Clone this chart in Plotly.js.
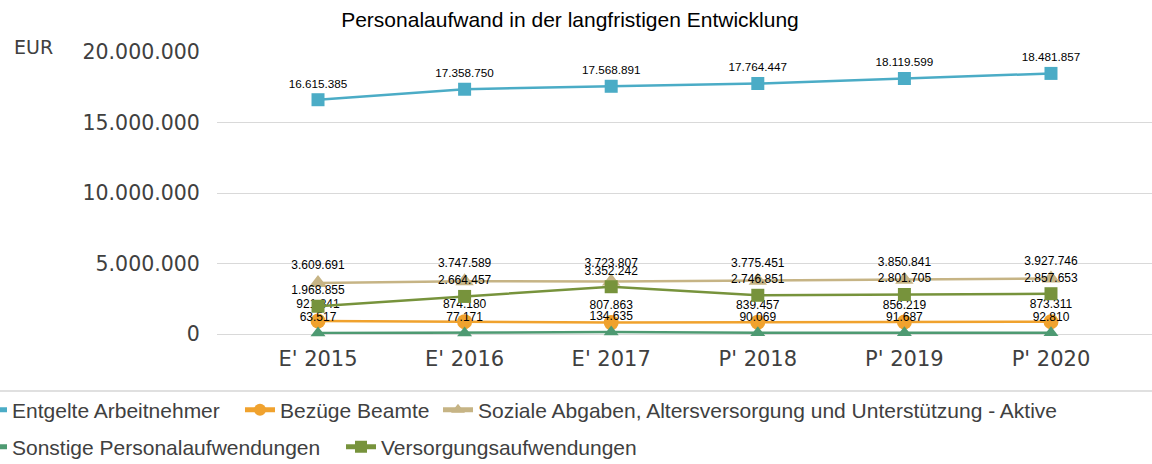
<!DOCTYPE html>
<html>
<head>
<meta charset="utf-8">
<script src="https://cdn.plot.ly/plotly-3.0.1.min.js"></script>
<style>html,body{margin:0;padding:0;background:#fff;}#chart{width:1152px;height:464px;}</style>
</head>
<body>
<div id="chart"></div>
<script>
const categories = ["E' 2015", "E' 2016", "E' 2017", "P' 2018", "P' 2019", "P' 2020"];
const entgelte = [16615385, 17358750, 17568891, 17764447, 18119599, 18481857];
const bezuege = [921841, 874180, 807863, 839457, 856219, 873311];
const soziale = [3609691, 3747589, 3723807, 3775451, 3850841, 3927746];
const sonstige = [63517, 77171, 134635, 90069, 91687, 92810];
const versorgung = [1968855, 2664457, 3352242, 2746851, 2801705, 2857653];
const seriesNames = ["Entgelte Arbeitnehmer", "Bezüge Beamte", "Soziale Abgaben, Altersversorgung und Unterstützung - Aktive", "Sonstige Personalaufwendungen", "Versorgungsaufwendungen"];
const yTickVals = [0, 5000000, 10000000, 15000000, 20000000];
const yTickText = ['0', '5.000.000', '10.000.000', '15.000.000', '20.000.000'];

function fmt(v){ return String(v).replace(/\B(?=(\d{3})+(?!\d))/g, "."); }

const xIdx = categories.map((c,i)=>i);

function trace(name, y, color, symbol, size, legendId, labelFont){
  return {
    x: xIdx, y: y, name: name, type: 'scatter', mode: 'lines+markers+text',
    legend: legendId,
    line: {color: color, width: 2.5},
    marker: {color: color, symbol: symbol, size: size},
    text: y.map(fmt), textposition: 'top center',
    textfont: labelFont || {family: 'Liberation Sans, Arial, sans-serif', size: 12, color: '#000'},
    cliponaxis: false, hoverinfo: 'skip'
  };
}

const data = [
  trace(seriesNames[0], entgelte, '#4bacc6', 'square', 13, 'legend', {family: 'Liberation Sans, Arial, sans-serif', size: 11.7, color: '#000'}),
  trace(seriesNames[1], bezuege, '#f0a22e', 'circle', 15, 'legend2'),
  trace(seriesNames[2], soziale, '#c6b485', 'triangle-up', 16, 'legend3'),
  trace(seriesNames[3], sonstige, '#4e9a72', 'triangle-up', 13, 'legend4'),
  trace(seriesNames[4], versorgung, '#77933c', 'square', 13, 'legend5')
];

const L = 217, R = 0, T = 52, B = 130;
const W = 1152 - L - R, H = 464 - T - B;
const legendFont = {family: 'Liberation Sans, Arial, sans-serif', size: 21, color: '#404040'};
function leg(textX, rowY){
  return {orientation: 'h', x: (textX - 40 - L) / W, xanchor: 'left', y: (334 - rowY) / H, yanchor: 'middle',
    font: legendFont, bgcolor: 'rgba(0,0,0,0)', itemsizing: 'constant'};
}

const layout = {
  width: 1152, height: 464,
  margin: {l: L, r: R, t: T, b: B, pad: 0, autoexpand: false},
  paper_bgcolor: '#fff', plot_bgcolor: '#fff',
  showlegend: true,
  title: {text: 'Personalaufwand in der langfristigen Entwicklung', x: 570 / 1152, xref: 'container', y: 1 - 20 / 464, yref: 'container', xanchor: 'center', yanchor: 'middle',
    font: {family: 'Liberation Sans, Arial, sans-serif', size: 21, color: '#000'}},
  xaxis: {
    range: [-0.689, 5.689], tickmode: 'array', tickvals: xIdx, ticktext: categories,
    showgrid: false, zeroline: false, showline: false,
    ticks: 'outside', ticklen: 6, tickcolor: 'rgba(0,0,0,0)',
    tickfont: {family: 'DejaVu Sans, Verdana, sans-serif', size: 21, color: '#404040'}
  },
  yaxis: {
    range: [0, 20000000], tickmode: 'array', tickvals: yTickVals, ticktext: yTickText,
    showgrid: true, gridcolor: '#d9d9d9', gridwidth: 1, zeroline: true, zerolinecolor: '#d9d9d9', zerolinewidth: 1,
    showline: false, ticks: 'outside', ticklen: 12, tickcolor: 'rgba(0,0,0,0)',
    tickfont: {family: 'DejaVu Sans, Verdana, sans-serif', size: 20.5, color: '#404040'}
  },
  legend: leg(12, 410),
  legend2: leg(280, 410),
  legend3: leg(478, 410),
  legend4: leg(12, 447),
  legend5: leg(381, 447),
  annotations: [{
    text: 'EUR', xref: 'paper', yref: 'paper', x: (12 - L) / W, y: (334 - 47) / H, xanchor: 'left', yanchor: 'middle', showarrow: false,
    font: {family: 'DejaVu Sans, Verdana, sans-serif', size: 19, color: '#404040'}
  }],
  shapes: [{
    type: 'line', xref: 'paper', yref: 'paper', x0: -L / W, x1: 1, y0: (334 - 391) / H, y1: (334 - 391) / H,
    line: {color: '#e0e0e0', width: 2}
  }]
};

Plotly.newPlot('chart', data, layout, {displayModeBar: false, staticPlot: true});
</script>
</body>
</html>
